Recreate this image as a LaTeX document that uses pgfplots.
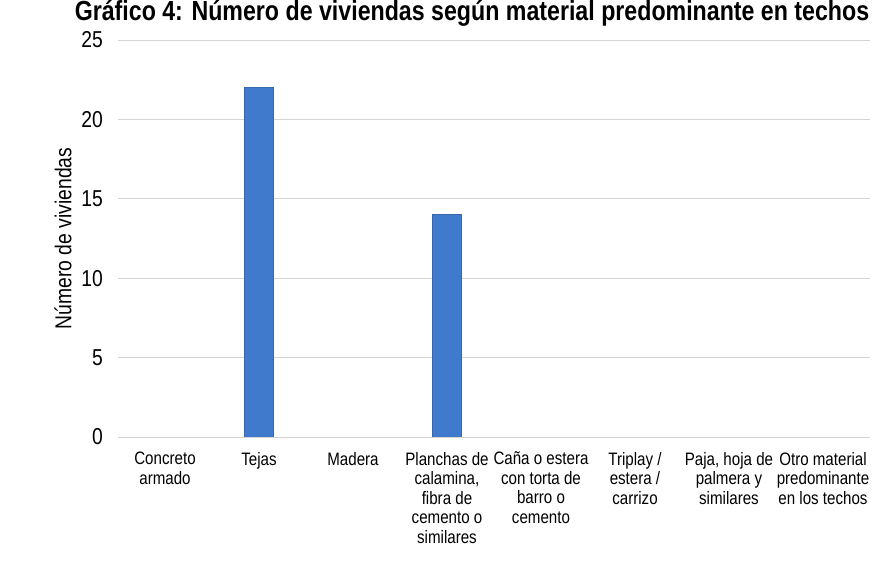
\documentclass[border=0pt]{standalone}
\usepackage{fontspec}
\setmainfont{Liberation Sans}[FakeStretch=0.84]
\usepackage{pgfplots}
\pgfplotsset{compat=1.18}
\definecolor{barblue}{RGB}{64,122,204}
\definecolor{gridgray}{RGB}{212,212,212}
\begin{document}
\begin{tikzpicture}
\useasboundingbox (-59pt,-63.5pt) rectangle (385.5pt,218.5pt);
\begin{axis}[
  at={(0pt,0pt)}, anchor=south west,
  scale only axis, width=376pt, height=198.5pt,
  xmin=-0.5, xmax=7.5, ymin=0, ymax=25,
  ytick={0,5,...,25},
  xtick={0,...,7},
  xticklabels={{Concreto\\armado},{Tejas},{Madera},{Planchas de\\calamina,\\fibra de\\cemento o\\similares},{Caña o estera\\con torta de\\barro o\\cemento},{Triplay /\\estera /\\carrizo},{Paja, hoja de\\palmera y\\similares},{Otro material\\predominante\\en los techos}},
  xticklabel style={align=center, font=\fontsize{9}{9.75}\selectfont, anchor=north, yshift=-4pt},
  yticklabel style={font=\fontsize{11.5}{12}\selectfont, xshift=-4pt},
  /pgf/number format/assume math mode=true,
  major tick length=0pt,
  axis line style={draw=none},
  ymajorgrids, grid style={gridgray, line width=0.4pt},
  ylabel={Número de viviendas},
  ylabel style={font=\fontsize{11.5}{12}\selectfont, yshift=-2pt},
]
\addplot[ybar, bar width=14.5pt, fill=barblue, draw=barblue!85!black, line width=0.4pt]
  coordinates {(0,0) (1,22) (2,0) (3,14) (4,0) (5,0) (6,0) (7,0)};
\draw[gridgray, line width=0.5pt] (axis cs:-0.5,0) -- (axis cs:7.5,0);
\end{axis}
\node[anchor=base, font=\bfseries\fontsize{13.8}{14}\selectfont] at (177pt,208.5pt) {Gráfico 4: Número de viviendas según material predominante en techos};
\end{tikzpicture}
\end{document}
